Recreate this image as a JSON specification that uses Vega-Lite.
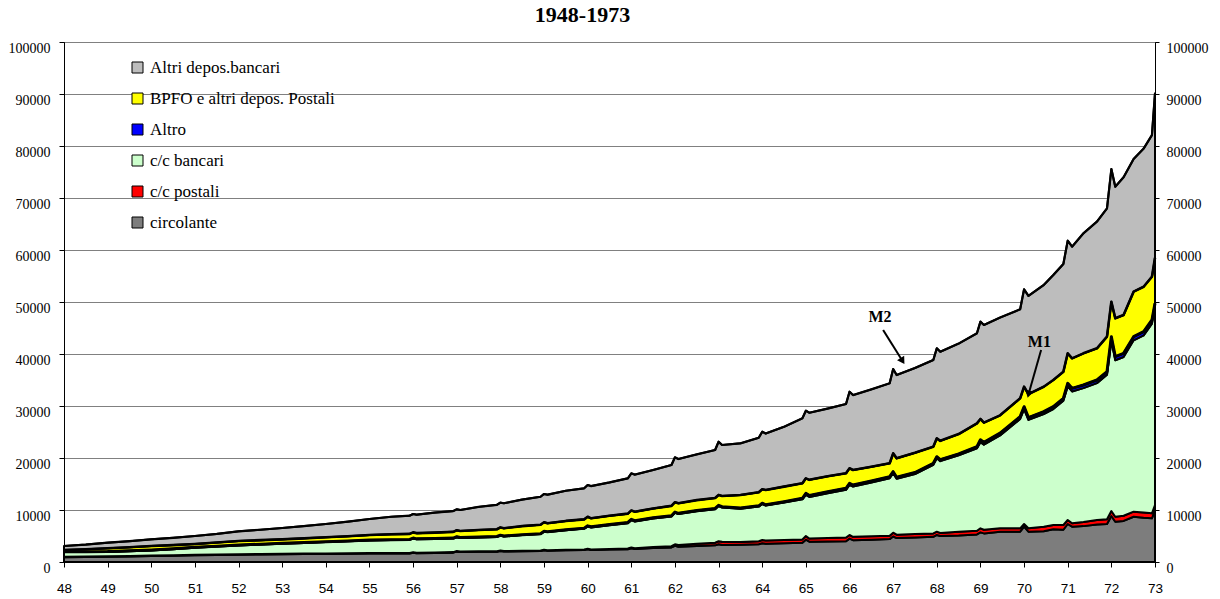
{
  "$schema": "https://vega.github.io/schema/vega-lite/v6.json",
  "width": 1091,
  "height": 520,
  "autosize": {"type": "none"},
  "padding": {"left": 64, "top": 42, "right": 65, "bottom": 37},
  "background": "white",
  "title": {"text": "1948-1973", "font": "Liberation Serif", "fontSize": 22, "fontWeight": "bold", "color": "black", "anchor": "middle", "dx": -27, "offset": 14},
  "config": {"view": {"stroke": "black", "strokeWidth": 1}},
  "datasets": {
    "main": [
      {"t":48,"a_circ":900,"b_ccp":100,"c_ccb":910,"d_altro":80,"e_bpfo":310,"f_adb":780},
      {"t":48.5,"a_circ":950,"b_ccp":100,"c_ccb":860,"d_altro":80,"e_bpfo":460,"f_adb":900},
      {"t":49,"a_circ":1000,"b_ccp":100,"c_ccb":820,"d_altro":80,"e_bpfo":630,"f_adb":1090},
      {"t":49.5,"a_circ":1050,"b_ccp":100,"c_ccb":920,"d_altro":80,"e_bpfo":700,"f_adb":1150},
      {"t":50,"a_circ":1150,"b_ccp":100,"c_ccb":980,"d_altro":80,"e_bpfo":770,"f_adb":1280},
      {"t":50.5,"a_circ":1200,"b_ccp":100,"c_ccb":1170,"d_altro":80,"e_bpfo":700,"f_adb":1400},
      {"t":51,"a_circ":1300,"b_ccp":100,"c_ccb":1340,"d_altro":80,"e_bpfo":640,"f_adb":1540},
      {"t":51.5,"a_circ":1350,"b_ccp":100,"c_ccb":1520,"d_altro":80,"e_bpfo":700,"f_adb":1650},
      {"t":52,"a_circ":1400,"b_ccp":100,"c_ccb":1690,"d_altro":80,"e_bpfo":770,"f_adb":1860},
      {"t":52.5,"a_circ":1450,"b_ccp":100,"c_ccb":1800,"d_altro":80,"e_bpfo":770,"f_adb":2000},
      {"t":53,"a_circ":1500,"b_ccp":100,"c_ccb":1910,"d_altro":80,"e_bpfo":770,"f_adb":2180},
      {"t":53.5,"a_circ":1550,"b_ccp":100,"c_ccb":2020,"d_altro":80,"e_bpfo":800,"f_adb":2350},
      {"t":54,"a_circ":1550,"b_ccp":100,"c_ccb":2180,"d_altro":80,"e_bpfo":840,"f_adb":2560},
      {"t":54.5,"a_circ":1600,"b_ccp":100,"c_ccb":2270,"d_altro":80,"e_bpfo":900,"f_adb":2800},
      {"t":55,"a_circ":1650,"b_ccp":100,"c_ccb":2400,"d_altro":80,"e_bpfo":960,"f_adb":3080},
      {"t":55.5,"a_circ":1650,"b_ccp":100,"c_ccb":2470,"d_altro":80,"e_bpfo":1050,"f_adb":3350},
      {"t":55.92,"a_circ":1650,"b_ccp":100,"c_ccb":2520,"d_altro":80,"e_bpfo":1050,"f_adb":3500},
      {"t":56,"a_circ":1790,"b_ccp":110,"c_ccb":2620,"d_altro":80,"e_bpfo":1100,"f_adb":3530},
      {"t":56.08,"a_circ":1700,"b_ccp":100,"c_ccb":2570,"d_altro":80,"e_bpfo":1100,"f_adb":3550},
      {"t":56.5,"a_circ":1750,"b_ccp":100,"c_ccb":2570,"d_altro":80,"e_bpfo":1150,"f_adb":3850},
      {"t":56.92,"a_circ":1800,"b_ccp":100,"c_ccb":2620,"d_altro":80,"e_bpfo":1200,"f_adb":4000},
      {"t":57,"a_circ":1990,"b_ccp":110,"c_ccb":2670,"d_altro":80,"e_bpfo":1250,"f_adb":4030},
      {"t":57.08,"a_circ":1900,"b_ccp":100,"c_ccb":2620,"d_altro":80,"e_bpfo":1250,"f_adb":4050},
      {"t":57.5,"a_circ":1950,"b_ccp":100,"c_ccb":2670,"d_altro":80,"e_bpfo":1350,"f_adb":4450},
      {"t":57.92,"a_circ":1950,"b_ccp":100,"c_ccb":2770,"d_altro":80,"e_bpfo":1400,"f_adb":4700},
      {"t":58,"a_circ":2100,"b_ccp":100,"c_ccb":2870,"d_altro":80,"e_bpfo":1500,"f_adb":4760},
      {"t":58.08,"a_circ":2000,"b_ccp":100,"c_ccb":2820,"d_altro":80,"e_bpfo":1500,"f_adb":4800},
      {"t":58.5,"a_circ":2050,"b_ccp":100,"c_ccb":3020,"d_altro":80,"e_bpfo":1650,"f_adb":5100},
      {"t":58.92,"a_circ":2100,"b_ccp":100,"c_ccb":3170,"d_altro":80,"e_bpfo":1700,"f_adb":5400},
      {"t":59,"a_circ":2250,"b_ccp":100,"c_ccb":3470,"d_altro":80,"e_bpfo":1750,"f_adb":5430},
      {"t":59.08,"a_circ":2180,"b_ccp":100,"c_ccb":3470,"d_altro":80,"e_bpfo":1610,"f_adb":5510},
      {"t":59.5,"a_circ":2250,"b_ccp":100,"c_ccb":3770,"d_altro":80,"e_bpfo":1700,"f_adb":5800},
      {"t":59.92,"a_circ":2300,"b_ccp":100,"c_ccb":4020,"d_altro":80,"e_bpfo":1700,"f_adb":5970},
      {"t":60,"a_circ":2450,"b_ccp":100,"c_ccb":4250,"d_altro":150,"e_bpfo":1750,"f_adb":6110},
      {"t":60.08,"a_circ":2310,"b_ccp":100,"c_ccb":4230,"d_altro":150,"e_bpfo":1610,"f_adb":6200},
      {"t":60.5,"a_circ":2400,"b_ccp":100,"c_ccb":4550,"d_altro":150,"e_bpfo":1700,"f_adb":6400},
      {"t":60.92,"a_circ":2450,"b_ccp":150,"c_ccb":4850,"d_altro":150,"e_bpfo":1700,"f_adb":6790},
      {"t":61,"a_circ":2650,"b_ccp":150,"c_ccb":5250,"d_altro":150,"e_bpfo":1700,"f_adb":7150},
      {"t":61.08,"a_circ":2500,"b_ccp":150,"c_ccb":5150,"d_altro":150,"e_bpfo":1730,"f_adb":7120},
      {"t":61.5,"a_circ":2700,"b_ccp":200,"c_ccb":5450,"d_altro":150,"e_bpfo":1800,"f_adb":7400},
      {"t":61.92,"a_circ":2800,"b_ccp":250,"c_ccb":5700,"d_altro":150,"e_bpfo":1900,"f_adb":7850},
      {"t":62,"a_circ":3100,"b_ccp":300,"c_ccb":6050,"d_altro":150,"e_bpfo":1900,"f_adb":8630},
      {"t":62.08,"a_circ":2950,"b_ccp":320,"c_ccb":5940,"d_altro":150,"e_bpfo":1930,"f_adb":8510},
      {"t":62.5,"a_circ":3100,"b_ccp":400,"c_ccb":6250,"d_altro":150,"e_bpfo":2000,"f_adb":8800},
      {"t":62.92,"a_circ":3200,"b_ccp":500,"c_ccb":6450,"d_altro":150,"e_bpfo":2000,"f_adb":9240},
      {"t":63,"a_circ":3400,"b_ccp":600,"c_ccb":6750,"d_altro":150,"e_bpfo":2000,"f_adb":10230},
      {"t":63.08,"a_circ":3270,"b_ccp":630,"c_ccb":6590,"d_altro":150,"e_bpfo":2050,"f_adb":9810},
      {"t":63.5,"a_circ":3300,"b_ccp":550,"c_ccb":6400,"d_altro":150,"e_bpfo":2480,"f_adb":9940},
      {"t":63.92,"a_circ":3400,"b_ccp":600,"c_ccb":6650,"d_altro":150,"e_bpfo":2600,"f_adb":10500},
      {"t":64,"a_circ":3600,"b_ccp":630,"c_ccb":6920,"d_altro":150,"e_bpfo":2700,"f_adb":11060},
      {"t":64.08,"a_circ":3500,"b_ccp":650,"c_ccb":6700,"d_altro":150,"e_bpfo":2850,"f_adb":10850},
      {"t":64.5,"a_circ":3600,"b_ccp":650,"c_ccb":7200,"d_altro":150,"e_bpfo":2900,"f_adb":11500},
      {"t":64.92,"a_circ":3700,"b_ccp":650,"c_ccb":7700,"d_altro":200,"e_bpfo":2880,"f_adb":12500},
      {"t":65,"a_circ":4300,"b_ccp":700,"c_ccb":7910,"d_altro":300,"e_bpfo":2880,"f_adb":13010},
      {"t":65.08,"a_circ":3900,"b_ccp":600,"c_ccb":8000,"d_altro":300,"e_bpfo":3000,"f_adb":12900},
      {"t":65.5,"a_circ":3950,"b_ccp":650,"c_ccb":8600,"d_altro":300,"e_bpfo":3000,"f_adb":13000},
      {"t":65.92,"a_circ":4000,"b_ccp":700,"c_ccb":9170,"d_altro":300,"e_bpfo":2880,"f_adb":13330},
      {"t":66,"a_circ":4500,"b_ccp":690,"c_ccb":9640,"d_altro":300,"e_bpfo":2890,"f_adb":14730},
      {"t":66.08,"a_circ":4200,"b_ccp":650,"c_ccb":9650,"d_altro":300,"e_bpfo":2900,"f_adb":14400},
      {"t":66.5,"a_circ":4300,"b_ccp":650,"c_ccb":10350,"d_altro":300,"e_bpfo":2700,"f_adb":14900},
      {"t":66.92,"a_circ":4400,"b_ccp":650,"c_ccb":11050,"d_altro":300,"e_bpfo":2580,"f_adb":15380},
      {"t":67,"a_circ":4900,"b_ccp":740,"c_ccb":11430,"d_altro":300,"e_bpfo":3530,"f_adb":16210},
      {"t":67.08,"a_circ":4600,"b_ccp":650,"c_ccb":10750,"d_altro":300,"e_bpfo":3640,"f_adb":16020},
      {"t":67.5,"a_circ":4700,"b_ccp":700,"c_ccb":11500,"d_altro":300,"e_bpfo":3800,"f_adb":16300},
      {"t":67.92,"a_circ":4850,"b_ccp":650,"c_ccb":13180,"d_altro":300,"e_bpfo":3200,"f_adb":16670},
      {"t":68,"a_circ":5200,"b_ccp":630,"c_ccb":14120,"d_altro":300,"e_bpfo":3530,"f_adb":17310},
      {"t":68.08,"a_circ":5000,"b_ccp":600,"c_ccb":13800,"d_altro":300,"e_bpfo":3600,"f_adb":17140},
      {"t":68.5,"a_circ":5100,"b_ccp":700,"c_ccb":14700,"d_altro":300,"e_bpfo":3800,"f_adb":17400},
      {"t":68.92,"a_circ":5300,"b_ccp":700,"c_ccb":15870,"d_altro":300,"e_bpfo":4500,"f_adb":17310},
      {"t":69,"a_circ":5700,"b_ccp":780,"c_ccb":16570,"d_altro":450,"e_bpfo":4000,"f_adb":18720},
      {"t":69.08,"a_circ":5500,"b_ccp":700,"c_ccb":16350,"d_altro":450,"e_bpfo":3800,"f_adb":18780},
      {"t":69.45,"a_circ":5830,"b_ccp":650,"c_ccb":17870,"d_altro":450,"e_bpfo":3400,"f_adb":18800},
      {"t":69.91,"a_circ":5830,"b_ccp":650,"c_ccb":21020,"d_altro":450,"e_bpfo":3530,"f_adb":17110},
      {"t":70,"a_circ":6790,"b_ccp":520,"c_ccb":22110,"d_altro":450,"e_bpfo":3840,"f_adb":18730},
      {"t":70.1,"a_circ":5830,"b_ccp":650,"c_ccb":20850,"d_altro":450,"e_bpfo":4490,"f_adb":18900},
      {"t":70.45,"a_circ":5900,"b_ccp":890,"c_ccb":21670,"d_altro":450,"e_bpfo":4800,"f_adb":19560},
      {"t":70.67,"a_circ":6300,"b_ccp":800,"c_ccb":22320,"d_altro":450,"e_bpfo":5130,"f_adb":20190},
      {"t":70.9,"a_circ":6200,"b_ccp":920,"c_ccb":23910,"d_altro":450,"e_bpfo":5120,"f_adb":20700},
      {"t":71,"a_circ":7310,"b_ccp":770,"c_ccb":25680,"d_altro":600,"e_bpfo":5770,"f_adb":21660},
      {"t":71.1,"a_circ":6790,"b_ccp":650,"c_ccb":25360,"d_altro":600,"e_bpfo":5770,"f_adb":21470},
      {"t":71.36,"a_circ":6900,"b_ccp":800,"c_ccb":25740,"d_altro":600,"e_bpfo":6090,"f_adb":23080},
      {"t":71.67,"a_circ":7200,"b_ccp":880,"c_ccb":26320,"d_altro":600,"e_bpfo":6090,"f_adb":24370},
      {"t":71.9,"a_circ":7300,"b_ccp":910,"c_ccb":27790,"d_altro":600,"e_bpfo":6730,"f_adb":24690},
      {"t":72,"a_circ":8850,"b_ccp":960,"c_ccb":32820,"d_altro":700,"e_bpfo":6730,"f_adb":25510},
      {"t":72.09,"a_circ":7750,"b_ccp":960,"c_ccb":30080,"d_altro":700,"e_bpfo":7370,"f_adb":25310},
      {"t":72.28,"a_circ":7900,"b_ccp":1000,"c_ccb":30530,"d_altro":700,"e_bpfo":7370,"f_adb":26500},
      {"t":72.51,"a_circ":8710,"b_ccp":970,"c_ccb":32950,"d_altro":700,"e_bpfo":8650,"f_adb":25520},
      {"t":72.74,"a_circ":8500,"b_ccp":1000,"c_ccb":34090,"d_altro":700,"e_bpfo":8650,"f_adb":26560},
      {"t":72.93,"a_circ":8400,"b_ccp":960,"c_ccb":36480,"d_altro":700,"e_bpfo":8320,"f_adb":27240},
      {"t":73,"a_circ":10000,"b_ccp":960,"c_ccb":38090,"d_altro":700,"e_bpfo":8750,"f_adb":31630}
    ],
    "notes": [
      {"label":"M2","tx":66.7,"ty":47100,"x0":66.77,"y0":44600,"x1":67.2,"y1":38850},
      {"label":"M1","tx":70.35,"ty":42300,"x0":70.39,"y0":40770,"x1":70.11,"y1":32500}
    ]
  },
  "layer": [
    {
      "data": {"name": "main"},
      "transform": [
        {"fold": ["a_circ","b_ccp","c_ccb","d_altro","e_bpfo","f_adb"], "as": ["serie","v"]},
        {"stack": "v", "groupby": ["t"], "sort": [{"field": "serie", "order": "ascending"}], "as": ["v0","v1"]}
      ],
      "mark": {"type": "area", "stroke": "black", "strokeWidth": 2, "strokeJoin": "round", "opacity": 1},
      "encoding": {
        "x": {"field": "t", "type": "quantitative", "title": null,
              "scale": {"domain": [48,73], "nice": false, "zero": false},
              "axis": {"values": [48,49,50,51,52,53,54,55,56,57,58,59,60,61,62,63,64,65,66,67,68,69,70,71,72,73],
                       "format": "d", "grid": false, "domain": true, "domainColor": "black", "ticks": true, "tickColor": "black", "tickSize": 5,
                       "labels": true, "labelFont": "Liberation Sans", "labelFontSize": 13.5, "labelColor": "black", "labelPadding": 14,
                       "labelFlush": false, "labelOverlap": false}},
        "y": {"field": "v1", "type": "quantitative", "title": null,
              "scale": {"domain": [0,100000], "nice": false},
              "axis": {"orient": "left", "values": [0,10000,20000,30000,40000,50000,60000,70000,80000,90000,100000],
                       "format": "d", "grid": true, "gridColor": "#808080", "gridWidth": 1,
                       "domainColor": "black", "tickColor": "black", "tickSize": 5,
                       "labelFont": "Liberation Serif", "labelFontSize": 14, "labelColor": "black",
                       "labelPadding": 9, "labelOffset": 6, "labelOverlap": false}},
        "y2": {"field": "v0"},
        "color": {"field": "serie", "type": "nominal",
                  "scale": {"domain": ["f_adb","e_bpfo","d_altro","c_ccb","b_ccp","a_circ"],
                            "range": ["#bdbdbd","#ffff00","#0000ff","#ccffcc","#ff0000","#7d7d7d"]},
                  "legend": {"orient": "none", "legendX": 65, "legendY": 17, "title": null, "padding": 0,
                             "symbolType": "square", "symbolSize": 121, "symbolStrokeColor": "black", "symbolStrokeWidth": 1,
                             "labelFont": "Liberation Serif", "labelFontSize": 17, "labelColor": "black", "labelLimit": 400,
                             "labelOffset": 4, "rowPadding": 13,
                             "labelExpr": "{'f_adb':'Altri depos.bancari','e_bpfo':'BPFO e altri depos. Postali','d_altro':'Altro','c_ccb':'c/c bancari','b_ccp':'c/c postali','a_circ':'circolante'}[datum.label]"}}
      }
    },
    {
      "data": {"name": "main"},
      "transform": [
        {"fold": ["a_circ","b_ccp","c_ccb","d_altro","e_bpfo","f_adb"], "as": ["serie","v"]},
        {"stack": "v", "groupby": ["t"], "sort": [{"field": "serie", "order": "ascending"}], "as": ["v0","v1"]},
        {"filter": {"field": "serie", "oneOf": ["d_altro","e_bpfo","f_adb"]}}
      ],
      "mark": {"type": "line", "color": "black", "strokeJoin": "round"},
      "encoding": {
        "x": {"field": "t", "type": "quantitative", "title": null},
        "y": {"field": "v1", "type": "quantitative", "title": null,
              "axis": {"orient": "right", "values": [0,10000,20000,30000,40000,50000,60000,70000,80000,90000,100000],
                       "format": "d", "grid": false, "domainColor": "black", "tickColor": "black", "tickSize": 4,
                       "labelFont": "Liberation Serif", "labelFontSize": 14, "labelColor": "black",
                       "labelPadding": 7, "labelOffset": 6, "labelOverlap": false}},
        "detail": {"field": "serie"},
        "strokeWidth": {"field": "serie", "type": "nominal", "legend": null,
                        "scale": {"domain": ["d_altro","e_bpfo","f_adb"], "range": [3, 2.2, 3.5]}}
      }
    },
    {
      "data": {"name": "notes"},
      "mark": {"type": "rule", "color": "black", "strokeWidth": 2},
      "encoding": {
        "x": {"field": "x0", "type": "quantitative", "title": null},
        "y": {"field": "y0", "type": "quantitative", "title": null, "axis": null},
        "x2": {"field": "x1"},
        "y2": {"field": "y1"}
      }
    },
    {
      "data": {"name": "notes"},
      "mark": {"type": "point", "shape": "triangle", "filled": true, "color": "black", "size": 70, "opacity": 1},
      "encoding": {
        "x": {"field": "x1", "type": "quantitative", "title": null},
        "y": {"field": "y1", "type": "quantitative", "title": null, "axis": null},
        "angle": {"field": "label", "type": "nominal", "legend": null,
                  "scale": {"domain": ["M1","M2"], "range": [195, 148]}}
      }
    },
    {
      "data": {"name": "notes"},
      "mark": {"type": "text", "font": "Liberation Serif", "fontSize": 16, "fontWeight": "bold", "color": "black", "align": "center", "baseline": "middle"},
      "encoding": {
        "x": {"field": "tx", "type": "quantitative", "title": null},
        "y": {"field": "ty", "type": "quantitative", "title": null, "axis": null},
        "text": {"field": "label"}
      }
    }
  ],
  "resolve": {"axis": {"y": "independent"}}
}
